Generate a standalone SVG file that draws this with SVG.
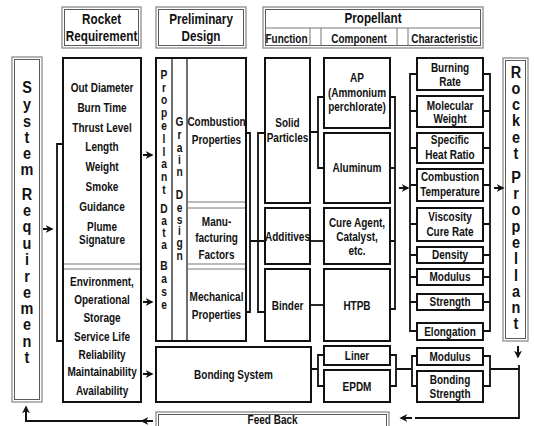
<svg xmlns="http://www.w3.org/2000/svg" width="535" height="426" viewBox="0 0 535 426">
<defs>
<style>
.bx{fill:#fff;stroke:#111;stroke-width:2}
.ho{fill:#fff;stroke:#8c8c8c;stroke-width:1.3}
.hi{fill:none;stroke:#5a5a5a;stroke-width:1}
.ln{fill:none;stroke:#111;stroke-width:1.8}
.tl{fill:none;stroke:#111;stroke-width:1.2}
.gl{fill:none;stroke:#777;stroke-width:1}
.ar{fill:none;stroke:#111;stroke-width:2;marker-end:url(#ah)}
text{font-family:"Liberation Sans",Arial,sans-serif;font-weight:bold;fill:#111;text-anchor:middle;font-size:12.5px;transform-box:fill-box;transform-origin:center;transform:scaleX(0.8)}
.h{font-size:15px;transform:scaleX(0.78)}
.hs{font-size:12.5px}
.v{font-size:17px;transform:scaleX(0.85)}
.vs{font-size:12px;transform:scaleX(0.85)}
</style>
<marker id="ah" viewBox="0 0 10 10" refX="8" refY="5" markerWidth="4" markerHeight="4" orient="auto"><path d="M0 0 L10 5 L0 10 L3 5 Z" fill="#111"/></marker>
</defs>

<g id="hdr-rocket-req">
<rect class="ho" x="62" y="7" width="79" height="41"/><rect class="hi" x="64.5" y="9.5" width="74" height="36"/>
<text class="h" x="101.5" y="24">Rocket</text><text class="h" x="101.5" y="41">Requirement</text>
</g>
<g id="hdr-prelim">
<rect class="ho" x="156" y="7" width="90" height="41"/><rect class="hi" x="158.5" y="9.5" width="85" height="36"/>
<text class="h" x="201" y="24">Preliminary</text><text class="h" x="201" y="41">Design</text>
</g>
<g id="hdr-propellant">
<rect class="ho" x="263" y="7" width="220" height="41"/><rect class="hi" x="265.5" y="9.5" width="215" height="36"/>
<path class="gl" d="M265.5 28H480.5M310 28V45.5M321 28V45.5M397 28V45.5M408 28V45.5"/>
<text class="h" x="373" y="23">Propellant</text>
<text class="hs" x="286.5" y="43">Function</text>
<text class="hs" x="359" y="43">Component</text>
<text class="hs" x="444.5" y="43">Characteristic</text>
</g>

<g id="system-requirement">
<rect class="ho" x="12" y="57" width="30" height="345"/><rect class="hi" x="14.5" y="59.5" width="25" height="340"/>
<text class="v"><tspan x="27" y="93">S</tspan><tspan x="27" y="110">y</tspan><tspan x="27" y="127">s</tspan><tspan x="27" y="143">t</tspan><tspan x="27" y="159">e</tspan><tspan x="27" y="175">m</tspan><tspan x="27" y="200">R</tspan><tspan x="27" y="216">e</tspan><tspan x="27" y="232">q</tspan><tspan x="27" y="249">u</tspan><tspan x="27" y="265">i</tspan><tspan x="27" y="282">r</tspan><tspan x="27" y="298">e</tspan><tspan x="27" y="314">m</tspan><tspan x="27" y="330">e</tspan><tspan x="27" y="347">n</tspan><tspan x="27" y="363">t</tspan></text>
</g>

<g id="rocket-requirement">
<rect class="bx" x="63" y="58" width="78" height="344"/>
<path class="gl" d="M64 264H140M64 269H140"/>
<text x="102" y="92.5">Out Diameter</text>
<text x="102" y="112.5">Burn Time</text>
<text x="102" y="132.5">Thrust Level</text>
<text x="102" y="151.5">Length</text>
<text x="102" y="171.5">Weight</text>
<text x="102" y="191.5">Smoke</text>
<text x="102" y="211.5">Guidance</text>
<text x="102" y="231">Plume</text>
<text x="102" y="244.5">Signature</text>
<text x="102" y="286.5">Environment,</text>
<text x="102" y="304.5">Operational</text>
<text x="102" y="322.5">Storage</text>
<text x="102" y="341">Service Life</text>
<text x="102" y="359">Reliability</text>
<text x="102" y="376.5">Maintainability</text>
<text x="102" y="395">Availability</text>
</g>

<g id="preliminary-design">
<rect class="bx" x="156" y="58" width="90" height="283"/>
<path class="tl" d="M172 58V341M187 58V341"/>
<path class="gl" d="M187 202H245M187 208H245M187 264H245M187 269H245"/>
<text class="vs"><tspan x="164" y="79">P</tspan><tspan x="164" y="92">r</tspan><tspan x="164" y="104">o</tspan><tspan x="164" y="117">p</tspan><tspan x="164" y="130">e</tspan><tspan x="164" y="143">l</tspan><tspan x="164" y="156">l</tspan><tspan x="164" y="168">a</tspan><tspan x="164" y="181">n</tspan><tspan x="164" y="194">t</tspan><tspan x="164" y="213">D</tspan><tspan x="164" y="225">a</tspan><tspan x="164" y="237">t</tspan><tspan x="164" y="249">a</tspan><tspan x="164" y="270">B</tspan><tspan x="164" y="283">a</tspan><tspan x="164" y="296">s</tspan><tspan x="164" y="309">e</tspan></text>
<text class="vs"><tspan x="179.5" y="126">G</tspan><tspan x="179.5" y="139">r</tspan><tspan x="179.5" y="152">a</tspan><tspan x="179.5" y="164">i</tspan><tspan x="179.5" y="176">n</tspan><tspan x="179.5" y="199">D</tspan><tspan x="179.5" y="212">e</tspan><tspan x="179.5" y="224">s</tspan><tspan x="179.5" y="235">i</tspan><tspan x="179.5" y="247">g</tspan><tspan x="179.5" y="260">n</tspan></text>
<text x="216.5" y="126.5">Combustion</text>
<text x="216.5" y="144.5">Properties</text>
<text x="216.5" y="226.5">Manu-</text>
<text x="216.5" y="242.5">facturing</text>
<text x="216.5" y="259.5">Factors</text>
<text x="216.5" y="301.5">Mechanical</text>
<text x="216.5" y="319.5">Properties</text>
</g>

<g id="bonding-system">
<rect class="bx" x="156" y="347" width="155" height="55"/>
<text x="233.5" y="379.5">Bonding System</text>
</g>

<g id="feed-back">
<rect class="ho" x="156" y="412" width="233" height="22"/><rect class="hi" x="158.5" y="414.5" width="228" height="17"/>
<text x="272.5" y="424.5">Feed Back</text>
</g>

<g id="solid-particles"><rect class="bx" x="265" y="58" width="45" height="145"/><text x="287.5" y="127.5">Solid</text><text x="287.5" y="142.5">Particles</text></g>
<g id="additives"><rect class="bx" x="265" y="208" width="45" height="56"/><text x="287.5" y="241.5">Additives</text></g>
<g id="binder"><rect class="bx" x="265" y="269" width="45" height="72"/><text x="287.5" y="310.5">Binder</text></g>

<g id="ap"><rect class="bx" x="324" y="58" width="66" height="70"/><text x="357" y="82.5">AP</text><text x="357" y="97.5">(Ammonium</text><text x="357" y="111.5">perchlorate)</text></g>
<g id="aluminum"><rect class="bx" x="324" y="133" width="66" height="70"/><text x="357" y="172.5">Aluminum</text></g>
<g id="cure-agent"><rect class="bx" x="324" y="208" width="66" height="56"/><text x="357" y="227.5">Cure Agent,</text><text x="357" y="241.5">Catalyst,</text><text x="357" y="255.5">etc.</text></g>
<g id="htpb"><rect class="bx" x="324" y="269" width="66" height="72"/><text x="357" y="310.5">HTPB</text></g>
<g id="liner"><rect class="bx" x="324" y="346" width="66" height="19"/><text x="357" y="360">Liner</text></g>
<g id="epdm"><rect class="bx" x="324" y="370" width="66" height="32"/><text x="357" y="391">EPDM</text></g>

<g id="burning-rate"><rect class="bx" x="417" y="58" width="66" height="32"/><text x="450" y="72">Burning</text><text x="450" y="86">Rate</text></g>
<g id="molecular-weight"><rect class="bx" x="417" y="96" width="66" height="31"/><text x="450" y="110.5">Molecular</text><text x="450" y="123.5">Weight</text></g>
<g id="specific-heat-ratio"><rect class="bx" x="417" y="133" width="66" height="30"/><text x="450" y="144.5">Specific</text><text x="450" y="159">Heat Ratio</text></g>
<g id="combustion-temperature"><rect class="bx" x="417" y="169" width="66" height="32"/><text x="450" y="181.5">Combustion</text><text x="450" y="196.5">Temperature</text></g>
<g id="viscosity"><rect class="bx" x="417" y="208" width="66" height="33"/><text x="450" y="221">Viscosity</text><text x="450" y="236">Cure Rate</text></g>
<g id="density"><rect class="bx" x="417" y="247" width="66" height="16"/><text x="450" y="259.5">Density</text></g>
<g id="modulus"><rect class="bx" x="417" y="269" width="66" height="16"/><text x="450" y="281.5">Modulus</text></g>
<g id="strength"><rect class="bx" x="417" y="294" width="66" height="16"/><text x="450" y="306.5">Strength</text></g>
<g id="elongation"><rect class="bx" x="417" y="323" width="66" height="17"/><text x="450" y="336">Elongation</text></g>
<g id="bond-modulus"><rect class="bx" x="417" y="348" width="66" height="17"/><text x="450" y="361">Modulus</text></g>
<g id="bonding-strength"><rect class="bx" x="417" y="371" width="66" height="31"/><text x="450" y="384">Bonding</text><text x="450" y="398">Strength</text></g>

<g id="rocket-propellant">
<rect class="ho" x="503" y="58" width="25" height="283"/><rect class="hi" x="505.5" y="60.5" width="20" height="278"/>
<text class="v"><tspan x="516" y="78">R</tspan><tspan x="516" y="94">o</tspan><tspan x="516" y="110">c</tspan><tspan x="516" y="126">k</tspan><tspan x="516" y="143">e</tspan><tspan x="516" y="159">t</tspan><tspan x="516" y="183">P</tspan><tspan x="516" y="199">r</tspan><tspan x="516" y="215">o</tspan><tspan x="516" y="232">p</tspan><tspan x="516" y="248">e</tspan><tspan x="516" y="264">l</tspan><tspan x="516" y="281">l</tspan><tspan x="516" y="297">a</tspan><tspan x="516" y="313">n</tspan><tspan x="516" y="329">t</tspan></text>
</g>

<g id="connectors">
<path class="ln" d="M63 144H57V341H63"/>
<path class="ar" d="M43 229H52"/>
<path class="ar" d="M143 155H152"/>
<path class="ar" d="M143 302H152"/>
<path class="ar" d="M143 374H152"/>
<path class="ln" d="M246 133H250V312H246M250 241H265M265 133H258V312H265"/>
<path class="ln" d="M310 132H318M324 97H318V168H324"/>
<path class="ln" d="M310 241H324"/>
<path class="ln" d="M310 305H324"/>
<path class="ln" d="M390 97H395V309H390M390 168H395M390 241H395"/>
<path class="ar" d="M399 188H408"/>
<path class="ln" d="M417 74H410V331H417M410 111H417M410 148H417M410 185H417M410 224H417M410 255H417M410 277H417M410 302H417"/>
<path class="ln" d="M483 74H490V331H483M483 111H490M483 148H490M483 185H490M483 224H490M483 255H490M483 277H490M483 302H490"/>
<path class="ar" d="M494 188H503"/>
<path class="ln" d="M311 369H318M324 355H318V386H324"/>
<path class="ln" d="M390 355H396V386H390M396 369H412M417 356H412V386H417"/>
<path class="ln" d="M483 356H490V386H483M490 369H519"/>
<path class="ln" d="M519 365V418H415"/>
<path class="ar" d="M518 346V357"/>
<path class="ar" d="M412 418H401"/>
<path class="ar" d="M153 421H142"/>
<path class="ar" d="M143 421H26V407"/>
</g>
</svg>
